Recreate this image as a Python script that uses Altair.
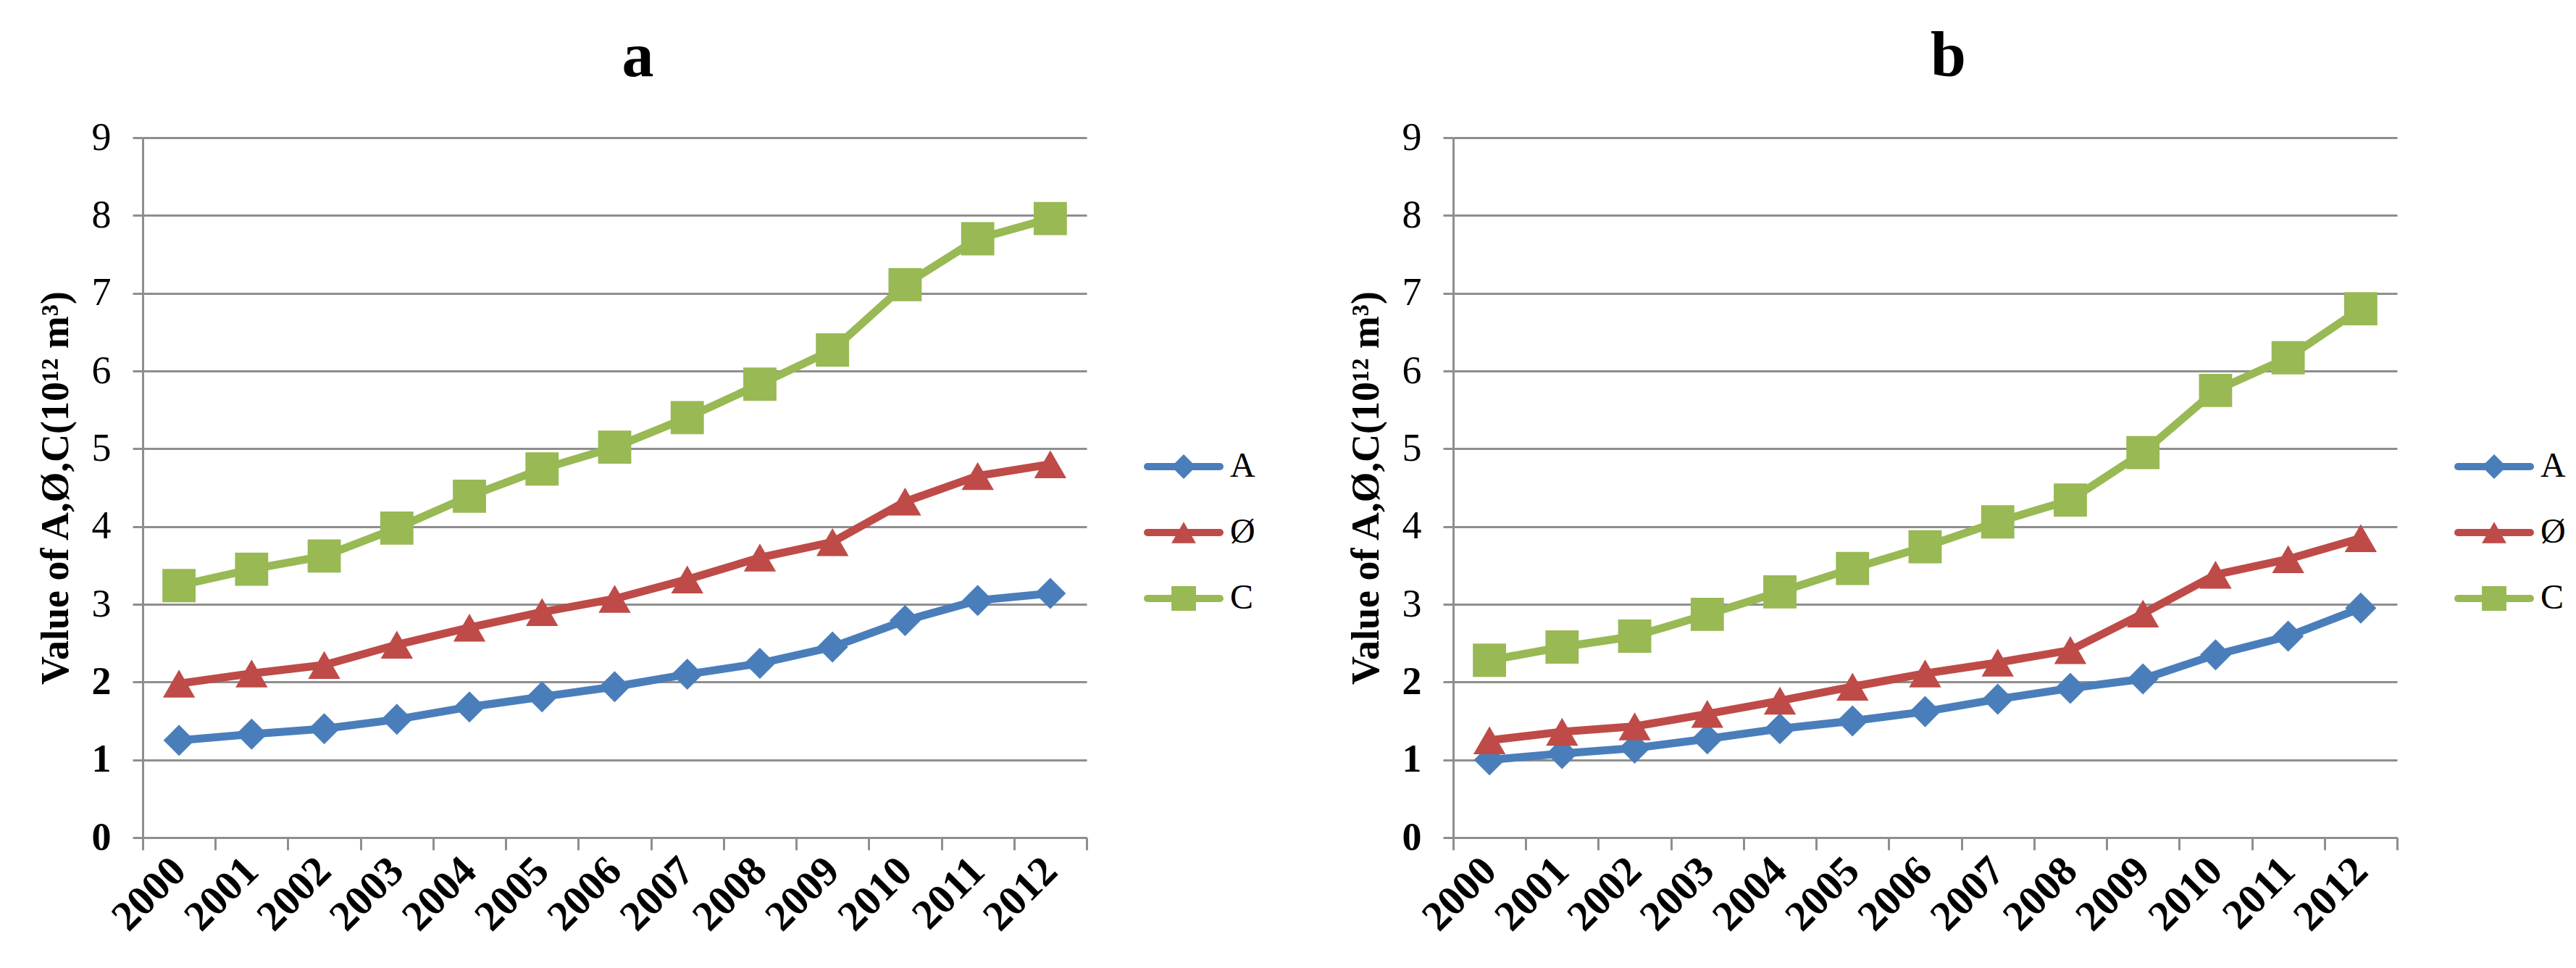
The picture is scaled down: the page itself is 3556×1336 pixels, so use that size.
import altair as alt
import pandas as pd

years = [str(y) for y in range(2000, 2013)]
series = ["A", "Ø", "C"]
colors = ["#4A7EBB", "#BE4B48", "#98B954"]
shapes = ["diamond", "triangle-up", "square"]
marker_sizes = [1850, 2100, 1936]

a_A = [1.25, 1.33, 1.40, 1.52, 1.68, 1.81, 1.94, 2.10, 2.24, 2.45, 2.79, 3.05, 3.14]
a_phi = [1.98, 2.11, 2.22, 2.48, 2.70, 2.90, 3.07, 3.32, 3.60, 3.80, 4.32, 4.65, 4.80]
a_C = [3.24, 3.45, 3.62, 3.98, 4.39, 4.74, 5.02, 5.40, 5.83, 6.27, 7.11, 7.70, 7.96]

b_A = [1.00, 1.08, 1.15, 1.27, 1.40, 1.50, 1.62, 1.78, 1.92, 2.04, 2.35, 2.59, 2.95]
b_phi = [1.25, 1.36, 1.43, 1.59, 1.76, 1.94, 2.11, 2.25, 2.41, 2.88, 3.38, 3.58, 3.85]
b_C = [2.28, 2.45, 2.59, 2.87, 3.16, 3.46, 3.74, 4.06, 4.34, 4.95, 5.75, 6.17, 6.80]

y_ticks = list(range(0, 10))
y_title = "Value of A,Ø,C(10¹² m³)"

SERIF = "Liberation Serif"
GRAY = "#8E8E8E"
W = 1303
H = 966


def panel(title, vals):
    rows = []
    for s, v in zip(series, vals):
        for yr, val in zip(years, v):
            rows.append({"year": yr, "series": s, "value": val})
    df = pd.DataFrame(rows)

    x = alt.X(
        "year:O",
        scale=alt.Scale(type="band", paddingInner=0, paddingOuter=0),
        bandPosition=0.5,
        axis=alt.Axis(
            title=None, labelAngle=-45, labelAlign="right", labelBaseline="middle",
            labelFont=SERIF, labelFontSize=58, labelFontWeight="bold", labelColor="black",
            labelPadding=20, labelOverlap=False, tickSize=17, tickWidth=3, tickColor=GRAY,
            tickBand="extent", domainColor=GRAY, domainWidth=3, grid=False,
        ),
    )
    y = alt.Y(
        "value:Q",
        scale=alt.Scale(domain=[0, 9], nice=False),
        axis=alt.Axis(
            title=y_title, titleFont=SERIF, titleFontSize=54, titleFontWeight="bold",
            titleColor="black", titlePadding=22, values=y_ticks,
            labelFont=SERIF, labelFontSize=54, labelColor="black", labelPadding=30,
            labelFontWeight=alt.condition("datum.value <= 2", alt.value("bold"), alt.value("normal")),
            tickSize=14, tickWidth=3, tickColor=GRAY, domainColor=GRAY, domainWidth=3,
            grid=True, gridColor=GRAY, gridWidth=3,
        ),
    )
    color = alt.Color("series:N", scale=alt.Scale(domain=series, range=colors), legend=None)
    shape = alt.Shape("series:N", scale=alt.Scale(domain=series, range=shapes), legend=None)

    lines = alt.Chart(df).mark_line(strokeWidth=11).encode(x=x, y=y, color=color)
    points = alt.Chart(df).mark_point(filled=True, opacity=1).encode(
        x=x, y=y, color=color, shape=shape,
        size=alt.Size("series:N", scale=alt.Scale(domain=series, range=marker_sizes), legend=None),
    )
    main = alt.layer(lines, points)

    leg_df = pd.DataFrame({"series": series})
    ly = alt.Y("series:N", scale=alt.Scale(type="point", domain=series, range=[454, 636], padding=0), axis=None)
    leg_rule = alt.Chart(leg_df).mark_rule(strokeWidth=10, strokeCap="round").encode(
        x=alt.value(W + 84), x2=alt.value(W + 184), y=ly, color=color)
    leg_pt = alt.Chart(leg_df).mark_point(filled=True, opacity=1, size=1150).encode(
        x=alt.value(W + 134), y=ly, color=color, shape=shape)
    leg_txt = alt.Chart(leg_df).mark_text(align="left", baseline="middle", font=SERIF, fontSize=48,
                                          color="black").encode(
        x=alt.value(W + 198), y=ly, text="series:N")
    legend = alt.layer(leg_rule, leg_pt, leg_txt)

    return alt.layer(main, legend).resolve_scale(y="independent").properties(
        width=W, height=H,
        title=alt.Title(title, font=SERIF, fontSize=88, fontWeight="bold", color="black",
                        frame="group", anchor="middle", dx=32, offset=40),
    )


chart = alt.hconcat(panel("a", [a_A, a_phi, a_C]), panel("b", [b_A, b_phi, b_C]), spacing=126).properties(
    padding={"left": 42, "top": 27, "right": 5, "bottom": 5}
).configure_view(stroke=None)

chart.save("out.html", embed_options={"renderer": "svg", "actions": False})
